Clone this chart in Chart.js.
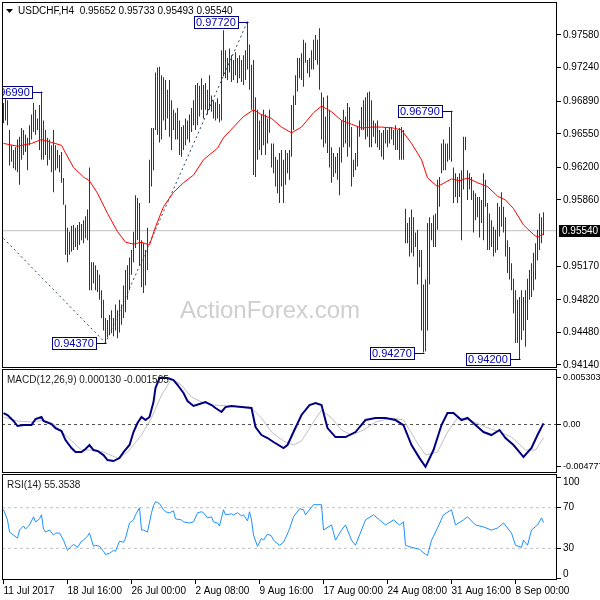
<!DOCTYPE html>
<html>
<head>
<meta charset="utf-8">
<title>USDCHF H4</title>
<script src="https://cdn.jsdelivr.net/npm/chart.js@4.4.1/dist/chart.umd.min.js"></script>
<style>
  html, body { margin: 0; padding: 0; background: #fff; }
  #wrap { position: relative; width: 600px; height: 600px; overflow: hidden; }
  #wrap canvas { position: absolute; left: 0; }
</style>
</head>
<body>
<div id="wrap">
  <canvas id="priceChart" width="600" height="370" style="top:0"></canvas>
  <canvas id="macdChart" width="600" height="106" style="top:368px"></canvas>
  <canvas id="rsiChart" width="600" height="126" style="top:474px"></canvas>
</div>
<script>
// ---- data ----
const symbol = 'USDCHF';
const period = 'H4';
const lastOHLC = [0.95652, 0.95733, 0.95493, 0.95540];
const watermark = 'ActionForex.com';

const xTickIdx = [0, 32, 64, 96, 128, 160, 192, 224, 256];
const xTickLabels = ['11 Jul 2017', '18 Jul 16:00', '26 Jul 00:00', '2 Aug 08:00', '9 Aug 16:00',
  '17 Aug 00:00', '24 Aug 08:00', '31 Aug 16:00', '8 Sep 00:00'];

const priceTicks = [0.97580, 0.97240, 0.96890, 0.96550, 0.96200, 0.95860, 0.95170, 0.94820, 0.94480, 0.94140];

// H4 bars, one per index
const highs = [
  0.9687, 0.9695, 0.9690, 0.9659, 0.9643, 0.9638, 0.9641, 0.9649, 0.9652, 0.9661,
  0.9659, 0.9654, 0.9651, 0.9664, 0.9675, 0.9687, 0.9680, 0.9671, 0.9685, 0.9699,
  0.9669, 0.9659, 0.9651, 0.9649, 0.9643, 0.9659, 0.9643, 0.9638, 0.9633, 0.9636,
  0.9609, 0.9581, 0.9557, 0.9553, 0.9559, 0.9560, 0.9557, 0.9560, 0.9563, 0.9561,
  0.9565, 0.9569, 0.9576, 0.9620, 0.9521, 0.9521, 0.9518, 0.9513, 0.9508, 0.9492,
  0.9482, 0.9463, 0.9461, 0.9466, 0.9471, 0.9463, 0.9477, 0.9471, 0.9482, 0.9477,
  0.9497, 0.9513, 0.9518, 0.9526, 0.9534, 0.9553, 0.9591, 0.9588, 0.9583, 0.9544,
  0.9541, 0.9534, 0.9557, 0.9628, 0.9661, 0.9661, 0.9719, 0.9724, 0.9725, 0.9716,
  0.9714, 0.9711, 0.9701, 0.9711, 0.9690, 0.9680, 0.9677, 0.9682, 0.9669, 0.9662,
  0.9664, 0.9671, 0.9669, 0.9675, 0.9682, 0.9690, 0.9706, 0.9708, 0.9705, 0.9713,
  0.9706, 0.9708, 0.9701, 0.9716, 0.9695, 0.9690, 0.9688, 0.9692, 0.9686, 0.9742,
  0.9763, 0.9742, 0.9734, 0.9744, 0.9737, 0.9732, 0.9740, 0.9734, 0.9737, 0.9732,
  0.9737, 0.9742, 0.9772, 0.9748, 0.9727, 0.9732, 0.9693, 0.9680, 0.9669, 0.9675,
  0.9680, 0.9675, 0.9671, 0.9680, 0.9645, 0.9645, 0.9631, 0.9628, 0.9635, 0.9638,
  0.9628, 0.9638, 0.9635, 0.9638, 0.9685, 0.9695, 0.9716, 0.9734, 0.9734, 0.9739,
  0.9753, 0.9750, 0.9732, 0.9734, 0.9742, 0.9753, 0.9758, 0.9753, 0.9765, 0.9698,
  0.9693, 0.9673, 0.9695, 0.9680, 0.9641, 0.9635, 0.9631, 0.9635, 0.9641, 0.9669,
  0.9680, 0.9673, 0.9687, 0.9683, 0.9662, 0.9628, 0.9635, 0.9662, 0.9669, 0.9683,
  0.9690, 0.9693, 0.9698, 0.9699, 0.9690, 0.9669, 0.9666, 0.9669, 0.9659, 0.9656,
  0.9659, 0.9662, 0.9659, 0.9662, 0.9662, 0.9659, 0.9664, 0.9659, 0.9661, 0.9662,
  0.9659, 0.9577, 0.9562, 0.9568, 0.9576, 0.9568, 0.9552, 0.9555, 0.9534, 0.9534,
  0.9498, 0.9503, 0.9562, 0.9568, 0.9562, 0.9570, 0.9572, 0.9607, 0.9610, 0.9645,
  0.9649, 0.9645, 0.9645, 0.9662, 0.9679, 0.9620, 0.9614, 0.9610, 0.9614, 0.9617,
  0.9652, 0.9652, 0.9617, 0.9614, 0.9610, 0.9596, 0.9593, 0.9589, 0.9589, 0.9586,
  0.9614, 0.9607, 0.9583, 0.9572, 0.9565, 0.9558, 0.9555, 0.9583, 0.9579, 0.9594,
  0.9579, 0.9568, 0.9544, 0.9537, 0.9520, 0.9504, 0.9492, 0.9482, 0.9485, 0.9492,
  0.9485, 0.9492, 0.9504, 0.9513, 0.9520, 0.9531, 0.9541, 0.9555, 0.9572, 0.9568, 0.95733
];
const lows = [
  0.9666, 0.9669, 0.9664, 0.9622, 0.9626, 0.9619, 0.9617, 0.9615, 0.9602, 0.9628,
  0.9633, 0.9636, 0.9617, 0.9643, 0.9649, 0.9657, 0.9654, 0.9659, 0.9638, 0.9628,
  0.9628, 0.9633, 0.9622, 0.9628, 0.9615, 0.9594, 0.9617, 0.9619, 0.9615, 0.9604,
  0.9581, 0.9529, 0.9521, 0.9529, 0.9532, 0.9534, 0.9537, 0.9534, 0.9539, 0.9544,
  0.9541, 0.9546, 0.9544, 0.9492, 0.9492, 0.9499, 0.9492, 0.9490, 0.9482, 0.9463,
  0.9450, 0.9437, 0.9443, 0.9445, 0.9447, 0.9444, 0.9450, 0.9442, 0.9448, 0.9456,
  0.9463, 0.9469, 0.9482, 0.9492, 0.9508, 0.9521, 0.9536, 0.9544, 0.9518, 0.9495,
  0.9489, 0.9497, 0.9513, 0.9583, 0.9600, 0.9617, 0.9659, 0.9654, 0.9646, 0.9649,
  0.9669, 0.9659, 0.9671, 0.9652, 0.9638, 0.9659, 0.9649, 0.9649, 0.9633, 0.9631,
  0.9638, 0.9643, 0.9649, 0.9646, 0.9657, 0.9664, 0.9659, 0.9664, 0.9673, 0.9680,
  0.9671, 0.9680, 0.9675, 0.9680, 0.9678, 0.9671, 0.9669, 0.9671, 0.9667, 0.9669,
  0.9715, 0.9713, 0.9711, 0.9719, 0.9709, 0.9711, 0.9716, 0.9708, 0.9713, 0.9709,
  0.9706, 0.9711, 0.9722, 0.9701, 0.9680, 0.9612, 0.9610, 0.9628, 0.9638, 0.9633,
  0.9643, 0.9633, 0.9645, 0.9656, 0.9620, 0.9614, 0.9600, 0.9593, 0.9583, 0.9600,
  0.9583, 0.9602, 0.9614, 0.9607, 0.9631, 0.9659, 0.9685, 0.9699, 0.9713, 0.9711,
  0.9704, 0.9729, 0.9718, 0.9714, 0.9722, 0.9722, 0.9732, 0.9727, 0.9701, 0.9649,
  0.9641, 0.9645, 0.9635, 0.9620, 0.9604, 0.9610, 0.9614, 0.9607, 0.9591, 0.9625,
  0.9641, 0.9645, 0.9631, 0.9641, 0.9600, 0.9610, 0.9617, 0.9621, 0.9652, 0.9659,
  0.9659, 0.9649, 0.9652, 0.9641, 0.9641, 0.9652, 0.9645, 0.9641, 0.9638, 0.9631,
  0.9628, 0.9645, 0.9641, 0.9645, 0.9649, 0.9643, 0.9638, 0.9638, 0.9628, 0.9628,
  0.9628, 0.9541, 0.9541, 0.9527, 0.9531, 0.9527, 0.9537, 0.9498, 0.9516, 0.9450,
  0.9427, 0.9428, 0.9450, 0.9498, 0.9544, 0.9537, 0.9537, 0.9555, 0.9579, 0.9614,
  0.9617, 0.9617, 0.9626, 0.9628, 0.9626, 0.9583, 0.9589, 0.9583, 0.9589, 0.9544,
  0.9597, 0.9638, 0.9586, 0.9597, 0.9586, 0.9552, 0.9565, 0.9568, 0.9547, 0.9562,
  0.9544, 0.9579, 0.9534, 0.9534, 0.9537, 0.9527, 0.9531, 0.9534, 0.9548, 0.9558,
  0.9552, 0.9527, 0.9510, 0.9503, 0.9492, 0.9468, 0.9437, 0.9437, 0.9420, 0.9440,
  0.9450, 0.9433, 0.9461, 0.9482, 0.9485, 0.9492, 0.9503, 0.9523, 0.9534, 0.9541, 0.95493
];

// moving average (red)
const maIdx = [0, 7, 14, 19, 24, 29, 31, 35, 40, 43, 47, 52, 57, 61, 65, 69, 73, 76, 80, 85,
  90, 95, 100, 107, 110, 115, 120, 125, 129, 134, 139, 144, 149, 155, 159, 164, 169, 174, 179, 184,
  189, 195, 199, 204, 209, 212, 217, 224, 228, 232, 237, 242, 247, 251, 255, 260, 265, 267, 270];
const maVals = [0.9645, 0.9642, 0.9645, 0.9649, 0.9646, 0.9643, 0.9635, 0.9620, 0.9610, 0.9606,
  0.9593, 0.9572, 0.9553, 0.9542, 0.9540, 0.9542, 0.9539, 0.9558, 0.9579, 0.9594,
  0.9604, 0.9612, 0.9628, 0.9640, 0.9651, 0.9662, 0.9673, 0.9680, 0.9675, 0.9671,
  0.9662, 0.9656, 0.9662, 0.9677, 0.9684, 0.9678, 0.9669, 0.9665, 0.9661, 0.9662,
  0.9662, 0.9661, 0.9659, 0.9645, 0.9628, 0.9609, 0.9600, 0.9608, 0.9606, 0.9609,
  0.9604, 0.9600, 0.9590, 0.9586, 0.9577, 0.9560, 0.9550, 0.9547, 0.9551];

// dotted trend line and marked highs / lows
const trendIdx = [0, 51, 122];
const trendPrice = [0.9546, 0.9437, 0.9772];
const pivotIdx = [19, 122, 51, 210, 224, 258];
const pivotPrice = [0.96990, 0.97720, 0.94370, 0.94270, 0.96790, 0.94200];

// MACD(12,26,9)
const macdIdx = [0, 2, 5, 7, 10, 14, 16, 19, 20, 24, 26, 29, 31, 34, 36, 39, 41, 43, 45, 47,
  50, 52, 55, 58, 60, 63, 65, 67, 69, 71, 73, 75, 76, 78, 80, 82, 85, 87, 90, 92,
  95, 98, 101, 104, 106, 109, 111, 114, 119, 124, 126, 129, 132, 135, 140, 142, 145, 149, 153, 156,
  159, 162, 166, 171, 176, 181, 186, 191, 196, 200, 204, 208, 211, 215, 219, 222, 225, 229, 232, 236,
  240, 244, 248, 251, 255, 258, 260, 264, 267, 270];
const macdMain = [0.00130, 0.00108, 0.00040, -0.00017, -0.00006, -0.00006, 0.00062, 0.00085, 0.00040, 0.00006,
  -0.00040, -0.00074, -0.00176, -0.00266, -0.00312, -0.00312, -0.00278, -0.00232, -0.00289, -0.00300,
  -0.00346, -0.00402, -0.00414, -0.00380, -0.00312, -0.00232, -0.00085, 0.00017, 0.00085, 0.00051,
  0.00085, 0.00255, 0.00414, 0.00527, 0.005303, 0.00527, 0.00504, 0.00448, 0.00357, 0.00266,
  0.00210, 0.00232, 0.00255, 0.00221, 0.00187, 0.00142, 0.00198, 0.00210, 0.00198, 0.00187,
  -0.00028, -0.00119, -0.00153, -0.00198, -0.00266, -0.00232, -0.00085, 0.00108, 0.00221, 0.00244,
  0.00221, -0.00040, -0.00142, -0.00142, -0.00085, 0.00051, 0.00074, 0.00074, 0.00051, -0.00006,
  -0.00232, -0.00380, -0.004777, -0.00289, -0.00006, 0.00130, 0.00130, 0.00051, 0.00074, -0.00006,
  -0.00085, -0.00119, -0.00062, -0.00153, -0.00232, -0.00312, -0.00368, -0.00266, -0.00119, 0.000130];
const signalIdx = [0, 7, 14, 20, 25, 32, 39, 45, 50, 57, 62, 69, 74, 79, 84, 89, 94, 99, 105, 114,
  124, 129, 134, 140, 145, 149, 154, 159, 164, 169, 174, 180, 186, 194, 200, 206, 211, 217, 222, 227,
  233, 241, 248, 254, 261, 266, 270];
const signalVals = [0.00085, 0.00040, 0.00028, 0.00051, 0.00006, -0.00142, -0.00289, -0.00289, -0.00312, -0.00380,
  -0.00312, -0.00119, 0.00074, 0.00334, 0.00516, 0.00448, 0.00312, 0.00255, 0.00221, 0.00210,
  0.00187, 0.00074, -0.00085, -0.00187, -0.00232, -0.00187, -0.00006, 0.00164, 0.00074, -0.00062,
  -0.00119, -0.00062, 0.00028, 0.00074, 0.00051, -0.00176, -0.00346, -0.00312, -0.00085, 0.00074,
  0.00051, -0.00028, -0.00085, -0.00142, -0.00289, -0.00289, -0.001505];
const macdTicks = [0.005303, 0, -0.004777];
const macdTickLabels = ['0.005303', '0.00', '-0.004777'];

// RSI(14)
const rsiIdx = [0, 2, 3, 5, 7, 8, 10, 11, 13, 15, 16, 18, 19, 20, 21, 23, 25, 26, 28, 30,
  32, 34, 35, 37, 39, 40, 42, 43, 45, 46, 48, 50, 51, 53, 55, 56, 58, 60, 61, 63,
  65, 66, 68, 69, 70, 72, 74, 75, 76, 78, 80, 81, 83, 85, 86, 89, 90, 93, 95, 97,
  99, 100, 102, 104, 105, 107, 108, 110, 111, 114, 115, 117, 119, 120, 122, 123, 124, 125, 127, 129,
  130, 132, 134, 135, 138, 140, 141, 143, 145, 148, 150, 151, 155, 159, 160, 164, 166, 169, 171, 174,
  176, 179, 181, 185, 188, 191, 195, 198, 200, 201, 204, 208, 211, 212, 214, 217, 220, 224, 226, 230,
  232, 236, 240, 244, 247, 250, 254, 256, 259, 260, 262, 264, 267, 269, 270];
const rsiVals = [68, 58, 46, 43, 40, 48, 52, 49, 53, 61, 56, 59, 63, 49, 46, 48, 43, 45, 45, 38,
  28, 32, 34, 31, 37, 38, 42, 45, 32, 33, 32, 27, 24, 25, 28, 27, 37, 36, 40, 55,
  58, 63, 70, 48, 48, 46, 65, 72, 76, 74, 68, 66, 65, 67, 59, 58, 56, 55, 56, 65,
  66, 65, 60, 61, 56, 55, 52, 68, 63, 64, 63, 65, 62, 63, 57, 66, 58, 43, 32, 40,
  38, 44, 42, 38, 33, 36, 40, 49, 61, 69, 68, 63, 73, 73, 48, 53, 38, 48, 53, 38,
  33, 48, 58, 63, 58, 53, 58, 53, 56, 33, 31, 29, 24, 23, 38, 50, 63, 68, 53, 58,
  61, 53, 51, 48, 50, 55, 45, 33, 31, 38, 33, 48, 53, 60, 55.3538];
const rsiLevels = [70, 30];
const rsiTicks = [100, 70, 30, 0];

// ---- setup ----
const FONT = '"Liberation Sans", Arial, sans-serif';
Chart.defaults.font.family = FONT;
Chart.defaults.font.size = 10;
Chart.defaults.color = '#000';
Chart.defaults.animation = false;
Chart.defaults.plugins.legend.display = false;
Chart.defaults.plugins.tooltip.enabled = false;

const X_MIN = -0.75, X_MAX = 276.75;
const pts = (xs, ys) => xs.map((x, i) => ({ x: x, y: ys[i] }));
const flat = v => [{ x: X_MIN, y: v }, { x: X_MAX, y: v }];

function hiddenX() {
  return { type: 'linear', min: X_MIN, max: X_MAX, offset: false, display: false };
}

function keepEdgeLabelsInside(scale) {
  if (scale.$edgePatched || typeof scale._computeLabelItems !== 'function') return;
  scale.$edgePatched = true;
  const base = scale._computeLabelItems;
  scale._computeLabelItems = function (area) {
    const items = base.call(this, area);
    if (items && items.length) {
      items[0].options.textBaseline = 'top';
      items[items.length - 1].options.textBaseline = 'bottom';
    }
    return items;
  };
}

function rightAxis(min, max, tickVals, label, inside, fontSize) {
  return {
    position: 'right', min: min, max: max,
    afterBuildTicks: s => { s.ticks = tickVals.map(v => ({ value: v })); },
    afterFit: s => {
      s.width = 43; s.paddingTop = 0; s.paddingBottom = 0;
      if (inside) keepEdgeLabelsInside(s);
    },
    grid: { drawOnChartArea: false, drawTicks: true, tickLength: 4, color: '#000' },
    border: { display: false },
    ticks: { padding: 2, color: '#000', autoSkip: false, font: { size: fontSize || 10 }, callback: label }
  };
}

const frame = {
  id: 'frame',
  afterDraw(chart) {
    const { ctx, chartArea: a } = chart;
    ctx.save();
    ctx.strokeStyle = '#000';
    ctx.lineWidth = 1;
    ctx.strokeRect(Math.round(a.left) + 0.5, Math.round(a.top) + 0.5,
      Math.round(a.width) - 1, Math.round(a.height) - 1);
    ctx.restore();
  }
};

function panelTitle(text) {
  return {
    id: 'panelTitle',
    afterDraw(chart) {
      const { ctx, chartArea: a } = chart;
      ctx.save();
      ctx.font = '10px ' + FONT;
      ctx.fillStyle = '#1b1b1b';
      ctx.textBaseline = 'middle';
      ctx.fillText(text, a.left + 5, a.top + 11);
      ctx.restore();
    }
  };
}

const priceDecor = {
  id: 'priceDecor',
  beforeDatasetsDraw(chart) {
    const { ctx, chartArea: a } = chart;
    ctx.save();
    ctx.font = '24px ' + FONT;
    ctx.fillStyle = '#cfcfcf';
    ctx.textAlign = 'center';
    ctx.textBaseline = 'middle';
    ctx.fillText(watermark, a.left + 268, a.top + 309);
    ctx.restore();
  },
  afterDatasetsDraw(chart) {
    const { ctx, chartArea: a, scales } = chart;
    const x = scales.x, y = scales.y;

    // boxed price labels at the marked highs / lows
    ctx.save();
    ctx.beginPath();
    ctx.rect(a.left, a.top, a.width, a.height);
    ctx.clip();
    ctx.font = '11px ' + FONT;
    ctx.textBaseline = 'middle';
    ctx.lineWidth = 1;
    pivotIdx.forEach((idx, k) => {
      const px = Math.round(x.getPixelForValue(idx));
      const cy = Math.round(y.getPixelForValue(pivotPrice[k]));
      const txt = pivotPrice[k].toFixed(5);
      const w = Math.ceil(ctx.measureText(txt).width) + 4;
      const bx = px - 10 - w, by = cy - 6;
      ctx.fillStyle = '#fff';
      ctx.fillRect(bx, by, w, 13);
      ctx.strokeStyle = '#000080';
      ctx.strokeRect(bx + 0.5, by + 0.5, w, 12);
      ctx.beginPath();
      ctx.moveTo(bx + w + 0.5, cy + 0.5);
      ctx.lineTo(px + 0.5, cy + 0.5);
      ctx.stroke();
      ctx.fillStyle = '#0000b0';
      ctx.fillText(txt, bx + 2, cy + 1);
    });
    ctx.restore();

    // header
    ctx.save();
    ctx.fillStyle = '#000';
    ctx.beginPath();
    ctx.moveTo(a.left + 4, a.top + 7);
    ctx.lineTo(a.left + 11, a.top + 7);
    ctx.lineTo(a.left + 7.5, a.top + 11);
    ctx.closePath();
    ctx.fill();
    ctx.font = '10px ' + FONT;
    ctx.textBaseline = 'middle';
    ctx.fillText(symbol + ',' + period + '  ' + lastOHLC.map(v => v.toFixed(5)).join(' '), a.left + 16, a.top + 9);

    // current price tag on the axis
    const last = lastOHLC[3];
    const cy = Math.round(y.getPixelForValue(last));
    ctx.fillStyle = '#000';
    ctx.fillRect(a.right + 2, cy - 6, chart.width - a.right - 2, 12);
    ctx.fillStyle = '#fff';
    ctx.fillText(last.toFixed(5), a.right + 5, cy);
    ctx.restore();
  }
};

// ---- price panel ----
new Chart(document.getElementById('priceChart'), {
  type: 'bar',
  data: {
    datasets: [
      { type: 'line', data: flat(lastOHLC[3]), borderColor: '#c0c0c0', borderWidth: 1, pointRadius: 0, order: 5 },
      { type: 'line', data: pts(trendIdx, trendPrice), borderColor: '#2b4760', borderWidth: 1,
        borderDash: [2, 3], pointRadius: 0, order: 4 },
      { type: 'bar', data: highs.map((h, i) => ({ x: i, y: [lows[i], h] })), backgroundColor: '#173e59',
        borderWidth: 0, inflateAmount: 0, barThickness: 1, grouped: false, order: 3 },
      { type: 'line', data: pts(maIdx, maVals), borderColor: '#ff0000', borderWidth: 1, pointRadius: 0, order: 1 }
    ]
  },
  options: {
    responsive: false,
    layout: { padding: { left: 2, top: 2, bottom: 2, right: 0 } },
    scales: {
      x: hiddenX(),
      y: rightAxis(0.941087, 0.979240, priceTicks, v => v.toFixed(5), false)
    }
  },
  plugins: [priceDecor, frame]
});

// ---- MACD panel ----
new Chart(document.getElementById('macdChart'), {
  type: 'line',
  data: {
    datasets: [
      { data: flat(0), borderColor: '#505050', borderWidth: 1, borderDash: [3, 3], pointRadius: 0, order: 3 },
      { data: pts(signalIdx, signalVals), borderColor: '#c0c0c0', borderWidth: 1, pointRadius: 0, order: 2 },
      { data: pts(macdIdx, macdMain), borderColor: '#000080', borderWidth: 2, pointRadius: 0, order: 1 }
    ]
  },
  options: {
    responsive: false,
    layout: { padding: { left: 2, top: 1, bottom: 1, right: 0 } },
    scales: {
      x: hiddenX(),
      y: rightAxis(-0.00549, 0.00629, macdTicks, (v, i) => macdTickLabels[i], false, 9)
    }
  },
  plugins: [panelTitle('MACD(12,26,9) ' + macdMain[macdMain.length - 1].toFixed(6) + ' ' +
    signalVals[signalVals.length - 1].toFixed(6)), frame]
});

// ---- RSI panel ----
new Chart(document.getElementById('rsiChart'), {
  type: 'line',
  data: {
    datasets: rsiLevels.map(l => ({ data: flat(l), borderColor: '#c0c0c0', borderWidth: 1,
      borderDash: [3, 3], pointRadius: 0, order: 3 })).concat([
      { data: pts(rsiIdx, rsiVals), borderColor: '#1e90ff', borderWidth: 1, pointRadius: 0, order: 1 }
    ])
  },
  options: {
    responsive: false,
    layout: { padding: { left: 2, top: 0, bottom: 0, right: 0 } },
    scales: {
      x: {
        type: 'linear', min: X_MIN, max: X_MAX, offset: false, position: 'bottom',
        afterBuildTicks: s => { s.ticks = xTickIdx.map(v => ({ value: v })); },
        afterFit: s => { s.height = 20; s.paddingLeft = 0; s.paddingRight = 0; },
        grid: { drawOnChartArea: false, drawTicks: true, tickLength: 4, color: '#000' },
        border: { display: false },
        ticks: { autoSkip: false, maxRotation: 0, minRotation: 0, align: 'start', padding: 1,
          color: '#000', font: { size: 10 }, callback: (v, i) => xTickLabels[i] }
      },
      y: rightAxis(-1.2, 103.2, rsiTicks, v => String(v), true)
    }
  },
  plugins: [panelTitle('RSI(14) ' + rsiVals[rsiVals.length - 1].toFixed(4)), frame]
});
</script>
</body>
</html>
